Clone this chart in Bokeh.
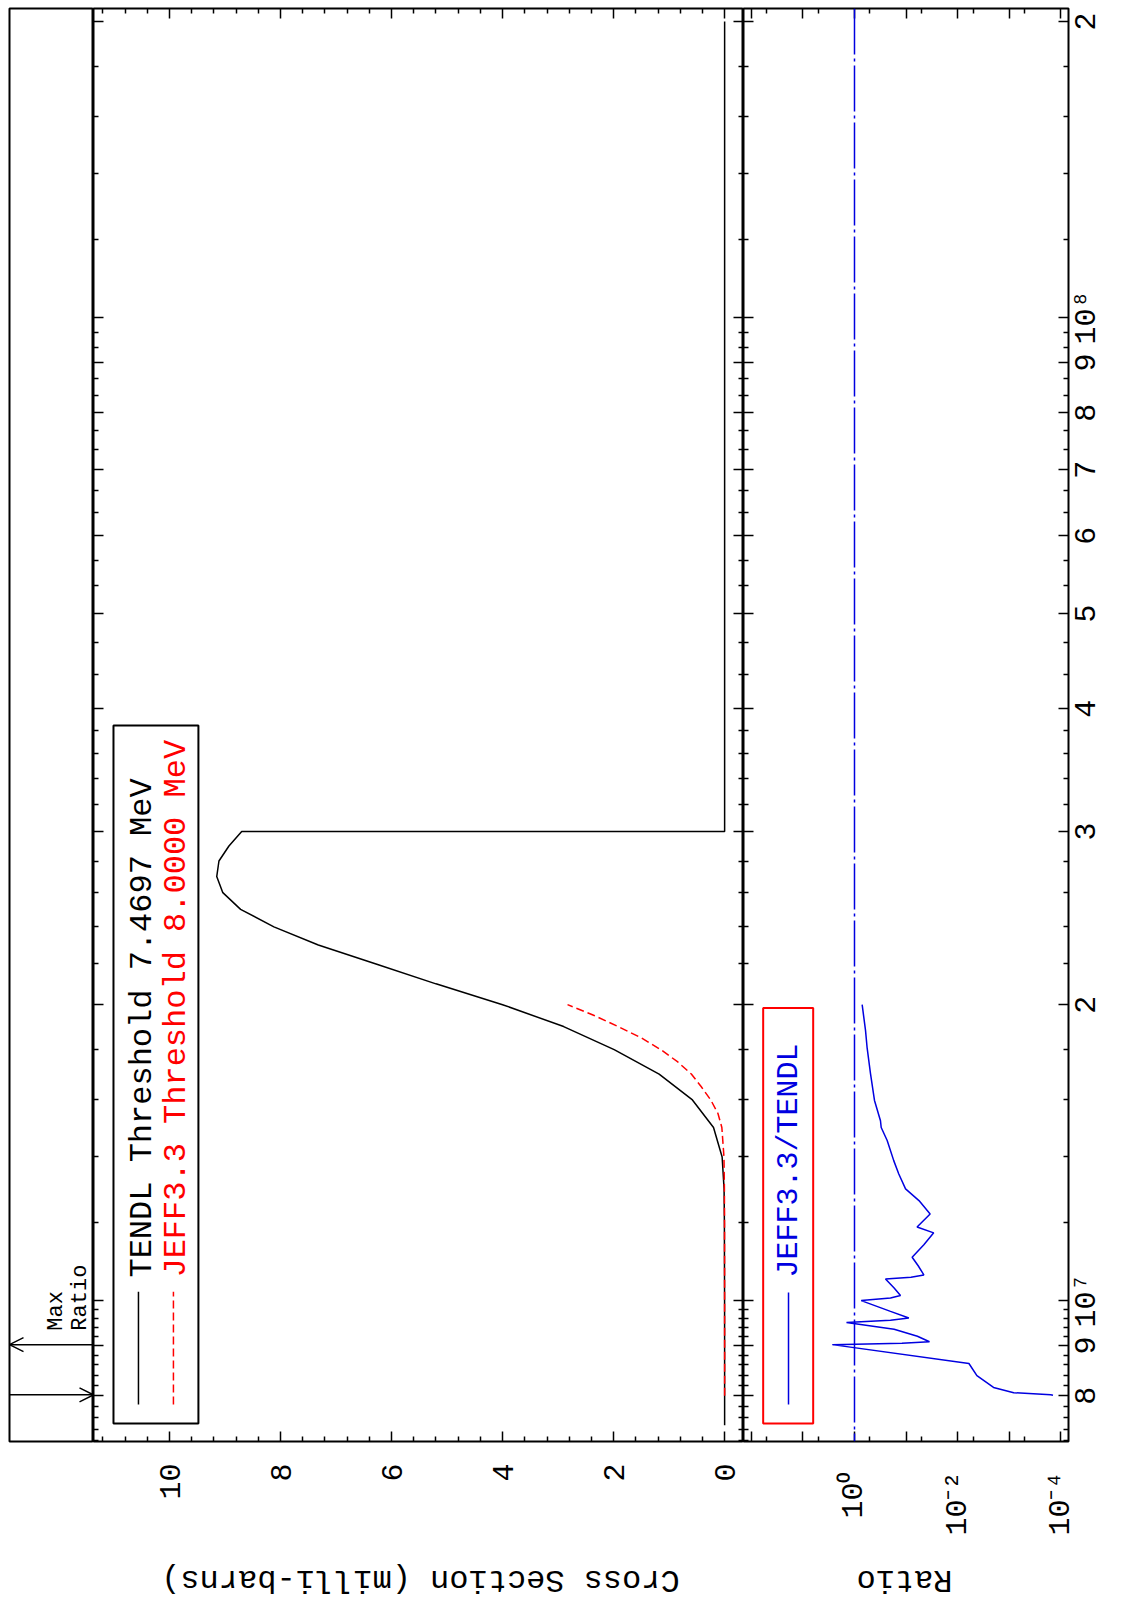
import math
from bokeh.plotting import figure
from bokeh.layouts import row, column
from bokeh.models import (Range1d, LinearAxis, FixedTicker, CustomLabelingPolicy, Label, Span,
                          Arrow, OpenHead)
from bokeh.embed import file_html
from bokeh.resources import INLINE

# ---------------- data (energies in MeV, cross sections in milli-barns) ----------------
TENDL_E_MEV = [7.4697, 8, 9, 10, 11, 12, 13, 14, 15, 16, 17, 18, 19, 20, 21, 22, 23, 24, 25,
               26, 27, 28, 29, 30, 30, 200]
TENDL_XS_MB = [0, 0.0001, 0.0003, 0.001, 0.003, 0.004, 0.01, 0.045, 0.2, 0.58, 1.18, 1.99, 2.9,
               4.0, 5.2, 6.28, 7.32, 8.12, 8.72, 9.04, 9.15, 9.11, 8.93, 8.70, 0, 0]

JEFF_E_MEV = [8.0, 9, 10, 11, 12, 13, 14, 15, 15.5, 16, 16.5, 17, 17.5, 18, 18.5, 19, 19.5, 20]
JEFF_XS_MB = [0, 0.0005, 0.001, 0.001, 0.002, 0.004, 0.012, 0.05, 0.12, 0.25, 0.42, 0.6, 0.85,
              1.15, 1.5, 1.92, 2.35, 2.83]

RATIO_E_MEV = [8.01, 8.02, 8.06, 8.16, 8.39, 8.63, 9.02, 9.05, 9.08, 9.2, 9.35, 9.5, 9.55, 9.6,
               9.75, 10.0, 10.06, 10.12, 10.3, 10.52, 10.56, 10.62, 10.85, 11.07, 11.4, 11.72,
               11.88, 12.25, 12.64, 12.99, 13.45, 13.88, 14.55, 15.0, 15.24, 15.98, 17.02, 18.1,
               18.83, 20.0]
RATIO_VAL = [1.4e-4, 1.55e-4, 8.1e-4, 2.0e-3, 4.2e-3, 6.0e-3, 2.7, 0.12, 0.035, 0.06, 0.17, 1.43,
             0.2, 0.088, 0.2, 0.74, 0.2, 0.128, 0.17, 0.25, 0.08, 0.045, 0.058, 0.076, 0.045,
             0.029, 0.061, 0.034, 0.056, 0.102, 0.138, 0.173, 0.232, 0.303, 0.313, 0.409, 0.489,
             0.57, 0.611, 0.71]

MAXRATIO_E_MEV = [8.02, 9.02]
MAXRATIO_DIR = ["low", "high"]

E_TICKS = [8e6, 9e6, 1e7, 2e7, 3e7, 4e7, 5e7, 6e7, 7e7, 8e7, 9e7, 1e8, 2e8]
E_TICK_LABELS = ["8", "9", "10⁷", "2", "3", "4", "5", "6", "7", "8", "9", "10⁸", "2"]
XS_TICKS = [0, 2, 4, 6, 8, 10]
RATIO_TICKS = [1e-4, 1e-3, 1e-2, 1e-1, 1e0, 1e1, 1e2]
RATIO_TICK_LABELS = ["10⁻⁴", "10⁻³", "10⁻²", "10⁻¹", "10⁰", "10¹", "10²"]
RATIO_LABELED = [1e-4, 1e-2, 1e0]

LEGEND_MAIN = ["TENDL Threshold 7.4697 MeV", "JEFF3.3 Threshold 8.0000 MeV"]
LEGEND_RATIO = "JEFF3.3/TENDL"
XS_TITLE = "Cross Section (milli-barns)"
RATIO_TITLE = "Ratio"
MAXRATIO_TITLE = ["Max", "Ratio"]

# ---------------- layout / style ----------------
FONT = "Liberation Mono"
BLUE = "#0000e0"
RED = "#ff0000"
PAGE_W = 1126
FIG_H = 1555            # height of the three panels (frame + tick labels)
TITLE_H = 47            # strip below holding the (upside-down) axis titles
FRAME_H = 1433
BORDER_TOP = 8
BORDER_BOTTOM = FIG_H - FRAME_H - BORDER_TOP
TICK_PX = 30
TICK_FONT = "%dpx" % TICK_PX
CHAR_W = 0.6 * TICK_PX  # monospace advance

E_MIN, E_MAX = 7.189e6, 2.0624e8
E_RANGE = Range1d(E_MIN, E_MAX)
XS_RANGE = Range1d(11.37, -0.34)
RATIO_RANGE = Range1d(10 ** 2.155, 10 ** -4.155)
PX_PER_DECADE = FRAME_H / math.log10(E_MAX / E_MIN)

# minor tick positions
e_minor = [m * 1e6 for m in (7.2, 7.4, 7.6, 7.8, 8.2, 8.4, 8.6, 8.8, 9.2, 9.4, 9.6, 9.8)]
e_minor += [m * 1e7 for m in (1.2, 1.4, 1.6, 1.8, 2.2, 2.4, 2.6, 2.8, 3.2, 3.4, 3.6, 3.8)]
e_minor += [(k + f) * 1e7 for k in range(4, 10) for f in (1 / 3, 2 / 3)]
e_minor += [m * 1e8 for m in (1.2, 1.4, 1.6, 1.8)]
xs_minor = [round(-0.4 + 0.4 * i, 4) for i in range(31)]
xs_minor = [v for v in xs_minor if abs(v / 2 - round(v / 2)) > 1e-6]
ratio_minor = [5 * 10.0 ** k for k in range(-4, 2)]


def style_ticks(ax, major=10, minor=5):
    ax.axis_line_color = None
    ax.major_tick_in = major
    ax.major_tick_out = 0
    ax.minor_tick_in = minor
    ax.minor_tick_out = 0
    ax.major_tick_line_width = 1.5
    ax.minor_tick_line_width = 1.5
    ax.major_tick_line_color = "black"
    ax.minor_tick_line_color = "black"


def tick_axis(ticks, minor):
    ax = LinearAxis(ticker=FixedTicker(ticks=ticks, minor_ticks=minor))
    style_ticks(ax)
    ax.major_label_text_font_size = "0px"
    ax.major_label_standoff = 0
    ax.major_label_policy = CustomLabelingPolicy(code="return new Set();")
    return ax


def set_label_style(ax, standoff):
    ax.major_label_text_font = FONT
    ax.major_label_text_font_size = TICK_FONT
    ax.major_label_text_color = "black"
    ax.major_label_orientation = math.pi / 2
    ax.major_label_standoff = standoff


def label_axis(ticks, minor, labels, standoff, keep=None):
    ax = LinearAxis(ticker=FixedTicker(ticks=ticks, minor_ticks=minor))
    style_ticks(ax)
    if labels is not None:
        ax.major_label_overrides = {float(t): s for t, s in zip(ticks, labels)}
    if keep is not None:
        ax.major_label_policy = CustomLabelingPolicy(args=dict(keep=keep), code="""
const out = new Set();
for (const i of indices) { if (keep.includes(i)) out.add(i); }
return out;""")
    set_label_style(ax, standoff)
    return ax


def base_fig(width, x_range, x_type, left=0, right=0):
    p = figure(width=width, height=FIG_H, x_range=x_range, y_range=E_RANGE,
               x_axis_type=x_type, y_axis_type="log", x_axis_location=None,
               y_axis_location=None, toolbar_location=None, output_backend="svg",
               min_border_left=left, min_border_right=right, min_border_top=BORDER_TOP,
               min_border_bottom=BORDER_BOTTOM, outline_line_color="black",
               outline_line_width=2, background_fill_color="white",
               border_fill_color="white")
    p.grid.visible = False
    return p


def rot_label(x, y, text, size, color, angle=math.pi / 2, align="left"):
    return Label(x=x, y=y, text=text, angle=angle, text_align=align,
                 text_baseline="middle", text_font=FONT, text_font_size=size, text_color=color)


# ---------------- Max Ratio strip ----------------
p_strip = base_fig(93, Range1d(0, 1), "linear", left=9)
for e, d in zip(MAXRATIO_E_MEV, MAXRATIO_DIR):
    x0, x1 = (0, 1) if d == "low" else (1, 0)
    p_strip.add_layout(Arrow(end=OpenHead(size=14, line_width=1.5, line_color="black"),
                             x_start=x0, x_end=x1, y_start=e * 1e6, y_end=e * 1e6,
                             line_width=1.5, line_color="black"))
for txt, xf in zip(MAXRATIO_TITLE, (0.565, 0.85)):
    p_strip.add_layout(rot_label(xf, 9.32e6, txt, "22px", "black"))

# ---------------- Cross section panel ----------------
p_xs = base_fig(650, XS_RANGE, "linear")
p_xs.add_layout(label_axis(XS_TICKS, xs_minor, None, 22), "below")
p_xs.add_layout(tick_axis(XS_TICKS, xs_minor), "above")
p_xs.add_layout(tick_axis(E_TICKS, e_minor), "left")
p_xs.add_layout(tick_axis(E_TICKS, e_minor), "right")

p_xs.line(TENDL_XS_MB, [e * 1e6 for e in TENDL_E_MEV], line_color="black", line_width=1.5)
p_xs.line(JEFF_XS_MB, [e * 1e6 for e in JEFF_E_MEV], line_color=RED, line_width=1.5,
          line_dash="8 4")

# legend
p_xs.quad(left=[11.01], right=[9.48], top=[3.846e7], bottom=[7.498e6], fill_color=None,
          line_color="black", line_width=2)
p_xs.line([10.56, 10.56], [7.838e6, 1.021e7], line_color="black", line_width=1.5)
p_xs.line([9.93, 9.93], [7.838e6, 1.021e7], line_color=RED, line_width=1.5, line_dash="8 4")
p_xs.add_layout(rot_label(10.49, 1.0554e7, LEGEND_MAIN[0], "32px", "black"))
p_xs.add_layout(rot_label(9.87, 1.0554e7, LEGEND_MAIN[1], "32px", RED))

# ---------------- Ratio panel ----------------
p_ratio = base_fig(PAGE_W - 93 - 650, RATIO_RANGE, "log", right=PAGE_W - 93 - 650 - 325)
keep = [i for i, t in enumerate(RATIO_TICKS) if t in RATIO_LABELED]
p_ratio.add_layout(label_axis(RATIO_TICKS, ratio_minor, RATIO_TICK_LABELS, 30, keep=keep),
                   "below")
p_ratio.add_layout(tick_axis(RATIO_TICKS, ratio_minor), "above")
p_ratio.add_layout(tick_axis(E_TICKS, e_minor), "left")
p_ratio.add_layout(tick_axis(E_TICKS, e_minor), "right")
# energy tick labels: rotated text starts at its anchor, so anchor half a label length lower
lab_pos = [t * 10 ** (-(len(s) * CHAR_W / 2) / PX_PER_DECADE)
           for t, s in zip(E_TICKS, E_TICK_LABELS)]
ax = LinearAxis(ticker=FixedTicker(ticks=lab_pos, minor_ticks=[]))
style_ticks(ax, 0, 0)
ax.major_label_overrides = {float(t): s for t, s in zip(lab_pos, E_TICK_LABELS)}
set_label_style(ax, 19)
p_ratio.add_layout(ax, "right")

p_ratio.add_layout(Span(location=1, dimension="height", line_color=BLUE, line_width=1.5,
                        line_dash="46 4 3 4"))
p_ratio.line(RATIO_VAL, [e * 1e6 for e in RATIO_E_MEV], line_color=BLUE, line_width=1.5)

p_ratio.quad(left=[59.3], right=[6.34], top=[1.984e7], bottom=[7.497e6], fill_color=None,
             line_color=RED, line_width=2)
p_ratio.line([19.1, 19.1], [7.838e6, 1.019e7], line_color=BLUE, line_width=1.5)
p_ratio.add_layout(rot_label(18.3, 1.0554e7, LEGEND_RATIO, "30px", BLUE))

# ---------------- axis titles (upside down, as in the rotated original) ----------------
p_title = figure(width=PAGE_W, height=TITLE_H, x_range=Range1d(0, PAGE_W), y_range=Range1d(0, 1),
                 x_axis_location=None, y_axis_location=None, toolbar_location=None,
                 output_backend="svg", min_border=0, outline_line_color=None,
                 background_fill_color="white", border_fill_color="white")
p_title.grid.visible = False
for txt, xc in ((XS_TITLE, 420), (RATIO_TITLE, 904)):
    p_title.add_layout(rot_label(xc, 0.5, txt, "32px", "black", angle=math.pi, align="center"))

layout = column(row(p_strip, p_xs, p_ratio), p_title)
open("out.html", "w").write(file_html(layout, INLINE))
